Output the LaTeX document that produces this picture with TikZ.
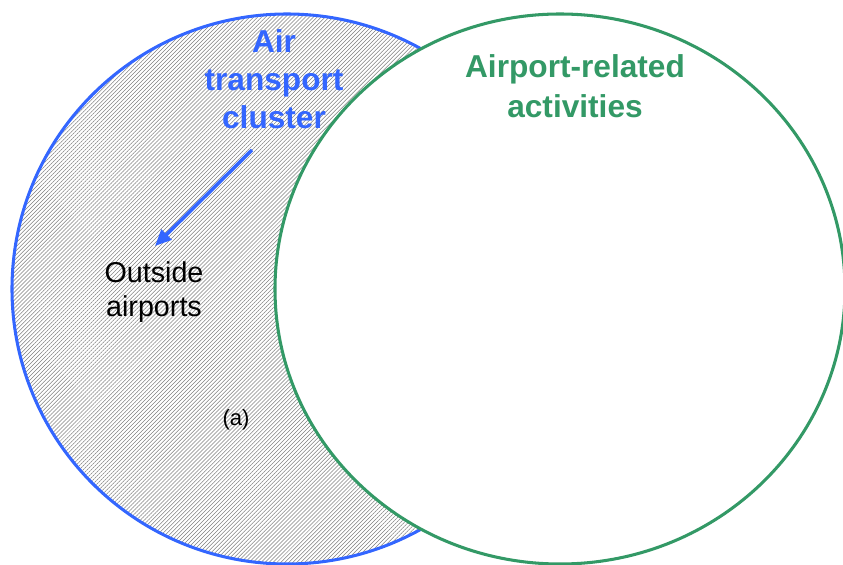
\documentclass[tikz,border=0pt]{standalone}
\usepackage{xcolor}
\usepackage{fontspec}
\setmainfont{Liberation Sans}
\usetikzlibrary{patterns.meta,arrows.meta}
\definecolor{clusterblue}{RGB}{51,102,255}
\definecolor{airportgreen}{RGB}{51,153,102}

\begin{document}
\begin{tikzpicture}[x=0.03cm,y=-0.03cm,
		ring/.style={line width=2.6pt},
		settitle/.style={font=\fontsize{27}{32.4}\selectfont\bfseries, align=center, inner sep=0pt},
		settext/.style={font=\fontsize{24.5}{29}\selectfont, align=center, inner sep=0pt}]
				\useasboundingbox (0,0) rectangle (843,565);
				
				% air transport cluster, hatched
				\draw[ring, clusterblue, pattern={Lines[angle=45,distance=2.4pt,line width=0.45pt]}, pattern color=gray] (287,289) ellipse [x radius=275, y radius=275];
				
				% airport-related activities, on top
				\draw[ring, airportgreen, fill=white] (560,289) ellipse [x radius=285, y radius=275];
				
				\node[settitle, text=clusterblue] (cluster) at (274,79) {Air\\transport\\cluster};
				\node[settitle, text=airportgreen, font=\fontsize{27}{34}\selectfont\bfseries] (related) at (575,86) {Airport-related\\activities};
				\node[settext] (outside) at (154,292) {Outside\\airports};
				\node[font=\fontsize{18.8}{22}\selectfont, inner sep=0pt] (parta) at (236,420) {(a)};
				
				\coordinate (tail) at (252,150);
				\coordinate (tip) at (155,246);
				\draw[clusterblue, line width=3pt, -{Triangle[length=14pt,width=12pt]}] (tail) -- (tip);
			\end{tikzpicture}
\end{document}
